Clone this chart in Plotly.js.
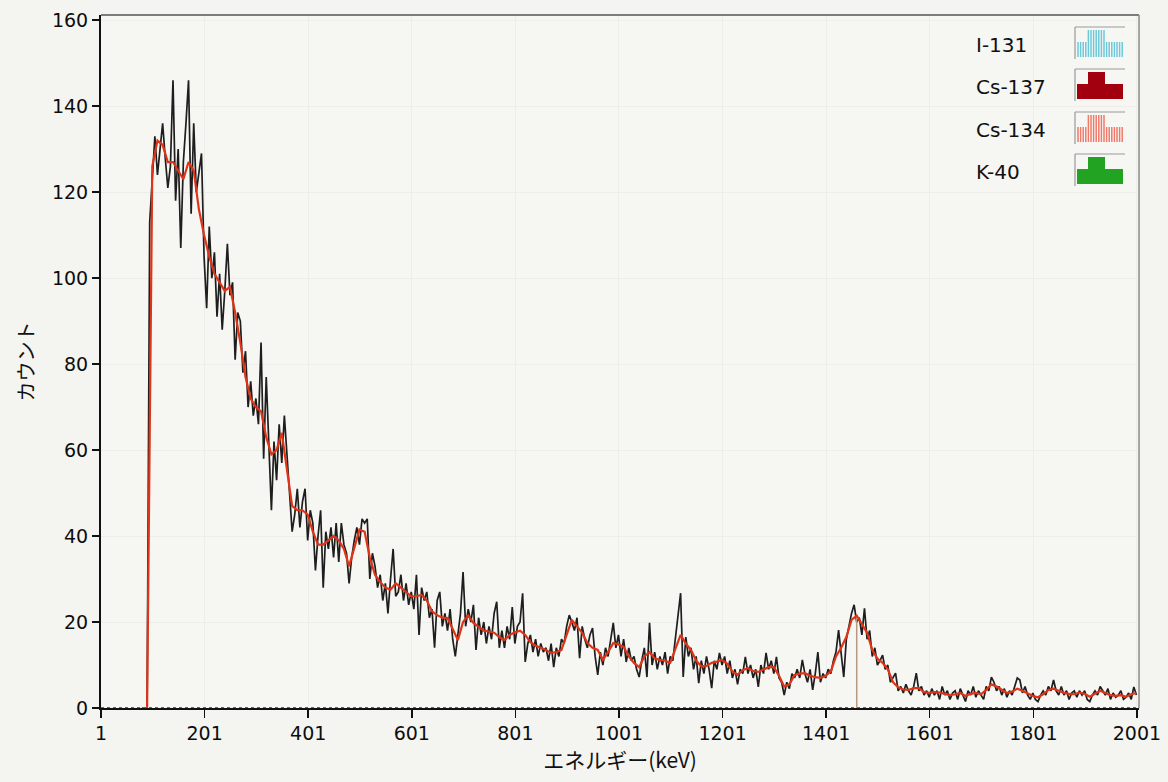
<!DOCTYPE html>
<html>
<head>
<meta charset="utf-8">
<script src="https://cdn.plot.ly/plotly-3.0.1.min.js"></script>
<style>
  html, body { margin: 0; padding: 0; background: #f4f4f1; }
  #chart { width: 1168px; height: 782px; }
</style>
</head>
<body>
<div id="chart"></div>
<script>
// ---------------- DATA ----------------
// Measured spectrum (black), one value every 5 keV starting at 80 keV
const blackStart = 80;
const blackStep = 5;
const blackCounts = [
  0, 0, 0, 113, 122, 133, 124, 131, 136, 128,
  121, 126, 146, 118, 130, 107, 127, 136, 146, 115,
  136, 120, 124, 129, 105, 93, 112, 100, 106, 91,
  101, 88, 97, 108, 96, 99, 81, 92, 90, 78,
  83, 70, 76, 68, 72, 66, 85, 58, 77, 60,
  46, 62, 53, 66, 57, 68, 60, 50, 41, 45,
  51, 42, 48, 51, 39, 46, 43, 32, 40, 46,
  28, 41, 37, 42, 35, 43, 34, 43, 38, 36,
  29, 35, 39, 42, 38, 44, 43, 44, 30, 36,
  33, 28, 31, 25, 29, 22, 30, 37, 26, 27,
  31, 25, 29, 24, 27, 23, 31, 17, 28, 25,
  27, 21, 23, 14, 25, 27, 19, 22, 18, 23,
  16, 12, 17, 22, 31.6, 19, 23, 20, 24, 13.5,
  21, 17, 20, 15, 19, 16, 22, 24.7, 14, 18,
  14, 19, 16, 23.5, 15, 19, 20, 26.7, 10.7, 15,
  17, 13, 16, 12, 15, 13, 14, 11, 15, 9.5,
  14, 12, 16, 15, 19, 21.6, 20, 18, 21, 11.6,
  19, 16, 14, 17, 18.6, 12, 7.7, 13, 10, 14,
  12, 16, 19.8, 14, 17, 12, 16, 10.7, 14, 11,
  12, 9, 7.2, 11, 14, 7.2, 19.8, 10, 13, 9,
  12, 10, 13, 8, 12, 11, 16, 21, 26.7, 7.2,
  16.5, 12, 14, 9, 12, 5.8, 11, 8, 12, 9,
  4.6, 11, 9, 12.8, 10, 12, 8, 11, 7, 9,
  5.5, 9, 8, 11.9, 8, 10, 7, 9, 4.9, 10,
  8, 12.8, 9, 11, 8, 11.9, 7, 6, 3, 6,
  4.5, 8, 7, 9, 7, 11.2, 8, 6, 9, 4.2,
  8, 13, 6, 8, 7, 9, 8, 11, 13, 18.1,
  12, 7.2, 16, 19, 22, 24, 20, 21, 17, 23.2,
  16, 18, 12, 14, 10, 11, 12.3, 9, 10, 6,
  7, 8.1, 4, 5, 3.5, 5.5, 4, 3, 5, 8.1,
  4, 5, 3, 4, 2.5, 4.5, 3, 4, 2, 5,
  3, 4, 2, 3.5, 4, 2, 4.5, 3, 1.5, 4,
  3, 5, 2.5, 4, 3, 2, 5, 4, 7.2, 6,
  4, 5, 3, 4.5, 2.5, 4, 3, 5, 7, 6.5,
  3.5, 5, 3, 2, 3.5, 2, 1.5, 3, 4, 3,
  5, 4, 6.5, 4, 3, 5, 3, 4, 2, 3.5,
  4, 2.5, 4, 3, 4, 2, 1.5, 3, 4, 3,
  5, 4, 3, 4.5, 2, 3.5, 2.5, 3, 4, 2,
  2.5, 3.5, 2, 4.9, 3
];

// Smoothed / fitted spectrum (red), one value every 10 keV starting at 80 keV
const redStart = 80;
const redStep = 10;
const redCounts = [
  0, 0, 126, 132, 131, 127, 127, 125, 123, 127,
  125, 116, 110, 105, 101, 99, 97, 98, 92, 85,
  77, 72, 70, 69, 63, 59, 60, 64, 56, 47,
  46, 46, 45, 41, 38, 38, 39, 40, 39, 37,
  33, 37, 41.5, 41, 35, 31, 29.3, 28, 27.5, 29,
  28, 27, 26, 26, 26.3, 25, 22.5, 21.6, 21, 20.9,
  18.5, 15.8, 20, 21.5, 19.8, 19, 18, 17.8, 17.5, 16.5,
  15.8, 17, 17.6, 18, 17, 15.3, 14.5, 14, 13.5, 12.8,
  13, 13.5, 17, 20.5, 19, 17.5, 15.1, 14, 13.5, 11.2,
  13, 15.1, 14.8, 14.2, 12, 10.5, 9.5, 12, 13, 11.5,
  11.2, 11, 10.5, 14, 17, 15, 13.5, 11, 9.7, 9.8,
  10.5, 10.8, 11.2, 10.3, 8.5, 7.7, 8.8, 9.3, 8.6, 8.4,
  9, 9.5, 9.5, 7.5, 5, 5.5, 7.7, 8, 8.1, 7.5,
  7.2, 7, 7.5, 8.5, 12, 14, 16.5, 20.5, 21.5, 19.5,
  17.5, 13.5, 11.5, 10.5, 9, 6, 4.8, 4.3, 4.2, 4.6,
  4.6, 3.7, 3.5, 3.7, 3.6, 3.3, 3.0, 3.2, 3.5, 2.8,
  3.3, 3.5, 3.2, 4.2, 5.5, 5, 4.2, 3.5, 3.8, 4.5,
  4, 3.4, 2.8, 2.5, 3.2, 4.2, 4.5, 4, 3.5, 3.3,
  3.2, 3.6, 3.3, 2.6, 3.4, 4, 3.5, 3, 2.8, 3,
  2.6, 3.2, 3.5
];

// K-40 marker line (1460 keV)
const k40Energy = [1460, 1460];
const k40Counts = [0, 21];

// Baseline along the energy axis
const baseEnergy = [1, 2001];
const baseCounts = [0, 0];

// Axis ticks
const xTickVals = [1, 201, 401, 601, 801, 1001, 1201, 1401, 1601, 1801, 2001];
const xTickText = ['1', '201', '401', '601', '801', '1001', '1201', '1401', '1601', '1801', '2001'];
const yTickVals = [0, 20, 40, 60, 80, 100, 120, 140, 160];

// Legend entries
const legendNames = ['I-131', 'Cs-137', 'Cs-134', 'K-40'];
const legendColors = ['#6cc8d8', '#a3000f', '#f07a68', '#22a322'];
const legendHatched = [true, false, true, false];

// ---------------- BUILD ----------------
const blackEnergy = blackCounts.map((_, i) => blackStart + i * blackStep);
const redEnergy = redCounts.map((_, i) => redStart + i * redStep);

const traces = [
  { x: baseEnergy, y: baseCounts, type: 'scatter', mode: 'lines',
    line: { color: '#d03a28', width: 2, dash: 'dot' }, hoverinfo: 'skip', showlegend: false },
  { x: blackEnergy, y: blackCounts, type: 'scatter', mode: 'lines',
    line: { color: '#1e1e1e', width: 1.7 }, showlegend: false },
  { x: redEnergy, y: redCounts, type: 'scatter', mode: 'lines',
    line: { color: '#de3418', width: 2.2 }, showlegend: false },
  { x: k40Energy, y: k40Counts, type: 'scatter', mode: 'lines',
    line: { color: '#b59a80', width: 1.5 }, showlegend: false }
];

// plot area in pixels: left 101, right 1139, top 15, bottom 708
const PL = 101, PR = 1139, PT = 15, PB = 708;
const X = px => (px - PL) / (PR - PL);
const Y = py => (PB - py) / (PB - PT);

const shapes = [
  { type: 'line', xref: 'paper', yref: 'paper', x0: 0, x1: 1, y0: 1, y1: 1,
    line: { color: '#555', width: 1.5 } },
  { type: 'line', xref: 'paper', yref: 'paper', x0: 1, x1: 1, y0: 0, y1: 1,
    line: { color: '#8a8a8a', width: 1.5 } }
];
const annotations = [];
const rowCenters = [45, 87, 130, 172];

legendNames.forEach((name, i) => {
  const cy = rowCenters[i];
  annotations.push({
    xref: 'paper', yref: 'paper', x: X(974), y: Y(cy), xanchor: 'left', yanchor: 'middle',
    text: name, showarrow: false,
    font: { family: 'DejaVu Sans', size: 20, color: '#111' }
  });
  // sunken frame
  shapes.push({ type: 'line', xref: 'paper', yref: 'paper',
    x0: X(1075), x1: X(1125), y0: Y(cy - 18), y1: Y(cy - 18), line: { color: '#999', width: 1.2 } });
  shapes.push({ type: 'line', xref: 'paper', yref: 'paper',
    x0: X(1075), x1: X(1075), y0: Y(cy - 18), y1: Y(cy + 14), line: { color: '#999', width: 1.2 } });
  const pts = [[1077, cy + 12], [1077, cy - 3], [1088, cy - 3], [1088, cy - 15], [1105, cy - 15],
               [1105, cy - 3], [1123, cy - 3], [1123, cy + 12]];
  const path = 'M ' + pts.map(p => X(p[0]) + ',' + Y(p[1])).join(' L ') + ' Z';
  if (!legendHatched[i]) {
    shapes.push({ type: 'path', xref: 'paper', yref: 'paper', path: path,
      fillcolor: legendColors[i], line: { width: 0 } });
  } else {
    shapes.push({ type: 'path', xref: 'paper', yref: 'paper', path: path,
      fillcolor: 'rgba(255,255,255,0.6)', line: { width: 0 } });
    let h = '';
    for (let px = 1078; px <= 1122.5; px += 2.6) {
      const top = (px >= 1088 && px <= 1105) ? cy - 15 : cy - 3;
      h += 'M ' + X(px) + ',' + Y(cy + 12) + ' L ' + X(px) + ',' + Y(top) + ' ';
    }
    shapes.push({ type: 'path', xref: 'paper', yref: 'paper', path: h,
      line: { color: legendColors[i], width: 1.5 } });
  }
});

const tickFont = { family: 'DejaVu Sans', size: 19, color: '#0d0d0d' };

const layout = {
  width: 1168, height: 782,
  margin: { l: PL, r: 1168 - PR, t: PT, b: 782 - PB, pad: 0 },
  paper_bgcolor: '#f4f4f1',
  plot_bgcolor: '#f6f6f3',
  showlegend: false,
  xaxis: {
    range: [1, 2005], tickmode: 'array', tickvals: xTickVals, ticktext: xTickText,
    ticks: 'outside', ticklen: 8, tickwidth: 1.5, tickcolor: '#111',
    showline: true, linecolor: '#111', linewidth: 1.5,
    showgrid: true, gridcolor: '#ededea', gridwidth: 1, zeroline: false,
    tickfont: tickFont,
    title: { text: 'エネルギー(keV)', standoff: 8,
      font: { family: 'Noto Sans CJK JP', size: 21, color: '#111' } }
  },
  yaxis: {
    range: [0, 161.2], tickmode: 'array', tickvals: yTickVals,
    ticks: 'outside', ticklen: 7, tickwidth: 1.5, tickcolor: '#111',
    showline: true, linecolor: '#111', linewidth: 2,
    showgrid: true, gridcolor: '#ededea', gridwidth: 1, zeroline: false,
    tickfont: tickFont,
    title: { text: 'カウント', standoff: 12,
      font: { family: 'Noto Sans CJK JP', size: 20, color: '#111' } }
  },
  shapes: shapes,
  annotations: annotations
};

Plotly.newPlot('chart', traces, layout, { staticPlot: true, displayModeBar: false });
</script>
</body>
</html>
